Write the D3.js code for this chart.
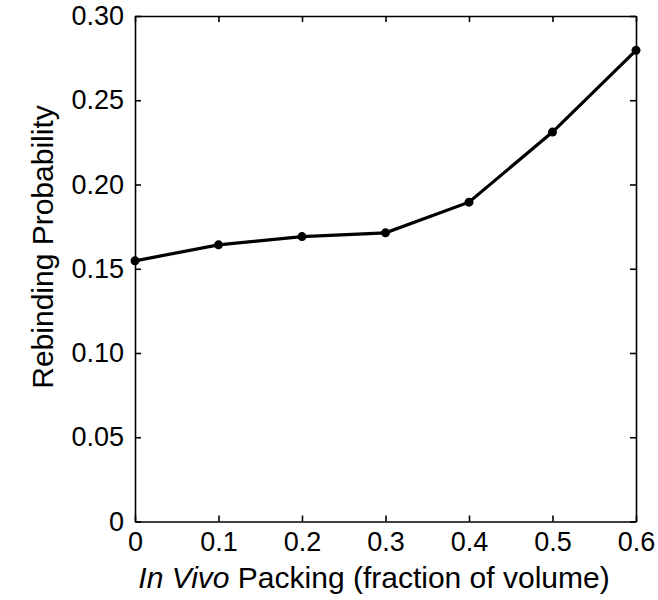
<!DOCTYPE html>
<html>
<head>
<meta charset="utf-8">
<script src="https://cdn.jsdelivr.net/npm/d3@7"></script>
<style>
  body { margin: 0; background: #fff; }
  svg text { font-family: Arial, "Liberation Sans", sans-serif; fill: #000; }
</style>
</head>
<body>
<div id="graph"></div>
<script>
// chart data
var packing = [0, 0.1, 0.2, 0.3, 0.4, 0.5, 0.6];
var rebinding = [0.1547, 0.1642, 0.1691, 0.1713, 0.1895, 0.2311, 0.2796];

var x_ticks = [0, 0.1, 0.2, 0.3, 0.4, 0.5, 0.6];
var x_tick_labels = ["0", "0.1", "0.2", "0.3", "0.4", "0.5", "0.6"];
var y_ticks = [0, 0.05, 0.10, 0.15, 0.20, 0.25, 0.30];
var y_tick_labels = ["0", "0.05", "0.10", "0.15", "0.20", "0.25", "0.30"];

var WIDTH = 658;
var HEIGHT = 600;
var TICK = 6;

// plot area edges (px)
var PLOT_LEFT = 135, PLOT_RIGHT = 636, PLOT_TOP = 16, PLOT_BOTTOM = 521.5;

let xscale = d3.scaleLinear().domain([0, 0.6]).range([PLOT_LEFT, PLOT_RIGHT]);
let yscale = d3.scaleLinear().domain([0, 0.3]).range([PLOT_BOTTOM, PLOT_TOP]);

let chart = d3.select("#graph")
              .append("svg")
                .attr("width", WIDTH)
                .attr("height", HEIGHT);

// axes, ticks pointing inward
let x_axis = d3.axisBottom(xscale)
               .tickValues(x_ticks)
               .tickFormat((d, i) => x_tick_labels[i])
               .tickSizeInner(-TICK)
               .tickSizeOuter(0)
               .tickPadding(10);

let y_axis = d3.axisLeft(yscale)
               .tickValues(y_ticks)
               .tickFormat((d, i) => y_tick_labels[i])
               .tickSizeInner(-TICK)
               .tickSizeOuter(0)
               .tickPadding(11);

// mirrored ticks on top and right, no labels
let x_top = d3.axisTop(xscale).tickValues(x_ticks).tickFormat("").tickSizeInner(-TICK).tickSizeOuter(0);
let y_right = d3.axisRight(yscale).tickValues(y_ticks).tickFormat("").tickSizeInner(-TICK).tickSizeOuter(0);

chart.append("g").attr("transform", `translate(0,${PLOT_BOTTOM})`).call(x_axis);
chart.append("g").attr("transform", `translate(${PLOT_LEFT},0)`).call(y_axis);
chart.append("g").attr("transform", `translate(0,${PLOT_TOP})`).call(x_top);
chart.append("g").attr("transform", `translate(${PLOT_RIGHT},0)`).call(y_right);

chart.selectAll("g").attr("font-family", null).attr("font-size", null);
chart.selectAll(".tick text")
     .attr("font-size", 27);
chart.selectAll(".tick line, .domain")
     .attr("stroke", "#000")
     .attr("stroke-width", 1.6);

// data line + points
let line = d3.line()
             .x((d, i) => xscale(packing[i]))
             .y(d => yscale(d));

chart.append("path")
     .datum(rebinding)
     .attr("d", line)
     .attr("fill", "none")
     .attr("stroke", "#000")
     .attr("stroke-width", 3.2);

chart.selectAll("circle_data")
     .data(rebinding)
     .enter()
     .append("circle")
       .attr("cx", (d, i) => xscale(packing[i]))
       .attr("cy", d => yscale(d))
       .attr("r", 4.5)
       .style("fill", "#000");

// axis labels
let xlabel = chart.append("text")
                  .attr("x", 374)
                  .attr("y", 588)
                  .attr("text-anchor", "middle")
                  .attr("font-size", 30);
xlabel.append("tspan").attr("font-style", "italic").text("In Vivo");
xlabel.append("tspan").text(" Packing (fraction of volume)");

chart.append("text")
     .attr("transform", "translate(53,247) rotate(-90)")
     .attr("text-anchor", "middle")
     .attr("font-size", 30)
     .text("Rebinding Probability");
</script>
</body>
</html>
